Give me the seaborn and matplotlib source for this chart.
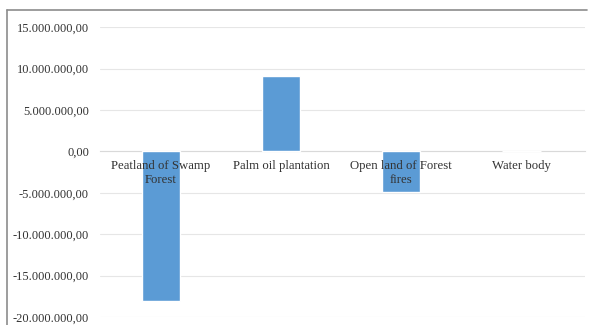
import matplotlib
matplotlib.use("Agg")
import matplotlib.pyplot as plt
import matplotlib.ticker as mticker
import seaborn as sns
import pandas as pd

categories = ["Peatland of Swamp\nForest", "Palm oil plantation", "Open land of Forest\nfires", "Water body"]
values = [-18100000, 9150000, -4950000, 0]
yticks = [-20000000, -15000000, -10000000, -5000000, 0, 5000000, 10000000, 15000000]

sns.set_theme(style="white")
plt.rcParams['font.family'] = ['Liberation Serif', 'DejaVu Serif']

df = pd.DataFrame({"cat": categories, "val": values})

fig = plt.figure(figsize=(5.89, 3.25), dpi=100)
ax = fig.add_axes([100/589, 0.0246, 485/589, 0.892])

sns.barplot(data=df, x="cat", y="val", color="#5B9BD5", saturation=1, width=0.32, ax=ax, zorder=2)

ax.set_ylim(-20000000, 15000000)
ax.set_yticks(yticks)

def fmt(v, pos):
    s = f"{abs(v):,.2f}".replace(",", "X").replace(".", ",").replace("X", ".")
    return ("-" if v < 0 else "") + s
ax.yaxis.set_major_formatter(mticker.FuncFormatter(fmt))

ax.yaxis.grid(True, color="#E6E6E6", linewidth=0.8, zorder=0)
ax.set_axisbelow(True)
ax.xaxis.set_zorder(5)
for s in ["top", "right", "left"]:
    ax.spines[s].set_visible(False)
ax.spines["bottom"].set_position(("data", 0))
ax.spines["bottom"].set_color("#D9D9D9")
ax.spines["bottom"].set_linewidth(0.8)
ax.spines["bottom"].set_zorder(1)

ax.tick_params(axis="x", length=0, pad=6, labelsize=9.2, colors="#333333")
ax.tick_params(axis="y", length=0, pad=8, labelsize=9.0, colors="#333333")
for lab in ax.get_xticklabels():
    lab.set_linespacing(1.25)
ax.set_xlabel("")
ax.set_ylabel("")
ax.set_xlim(-0.508, 3.53)

# outer chart border
fig.add_artist(plt.Line2D([7/589, 7/589], [0, 1 - 10/325], color="#8C8C8C", linewidth=1.2))
fig.add_artist(plt.Line2D([7/589, 587/589], [1 - 10/325, 1 - 10/325], color="#8C8C8C", linewidth=1.2))

fig.savefig("out.png", dpi=100)
